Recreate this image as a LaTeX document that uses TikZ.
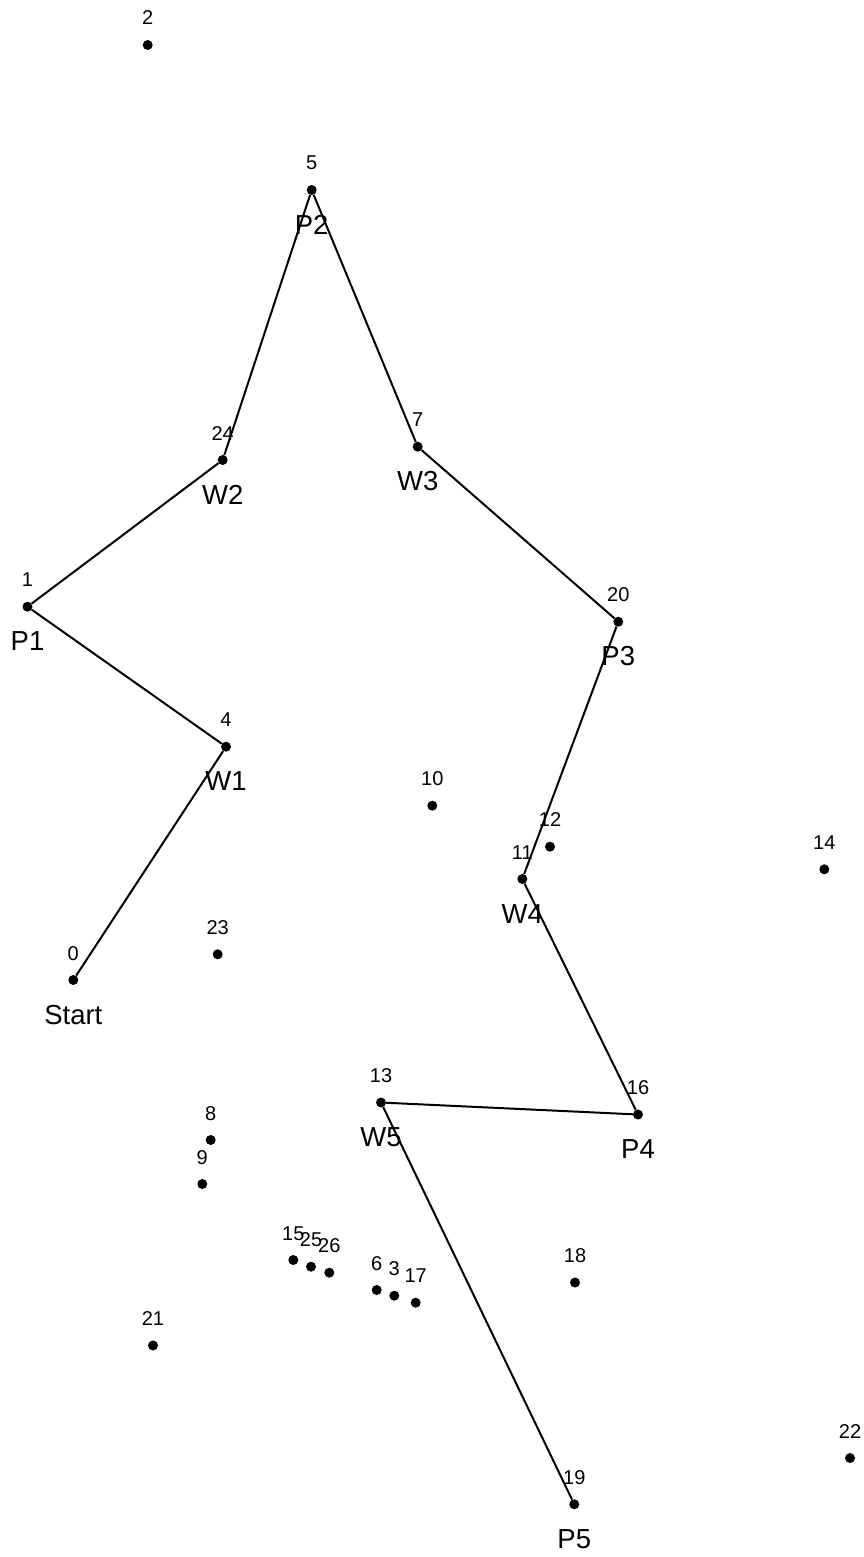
\documentclass[tikz,border=0pt]{standalone}
\usepackage{fontspec}
\setmainfont{Liberation Sans}
\begin{document}
\begin{tikzpicture}[x=1pt,y=-1pt,
  pt/.style={circle,fill=black,inner sep=0pt,minimum size=10pt},
  num/.style={anchor=base,inner sep=0pt,font=\fontsize{20}{20}\selectfont},
  lab/.style={anchor=base,inner sep=0pt,font=\fontsize{27.5}{27.5}\selectfont},
  path/.style={line width=2pt}]
\useasboundingbox (0,0) rectangle (864,1557);
\foreach \n/\x/\y in {0/73.3/980, 1/27.5/606.7, 2/147.7/45, 3/394.3/1295.7, 4/226/746.7,
  5/311.7/190, 6/376.7/1290, 7/417.7/446.7, 8/210.7/1140, 9/202.3/1184,
  10/432.3/805.7, 11/522.3/879, 12/550/846.7, 13/381/1102.5, 14/824.3/869.3,
  15/293.3/1260, 16/638/1114.5, 17/415.7/1302.7, 18/575/1282.5, 19/574.3/1504.3,
  20/618.3/621.7, 21/153/1345.5, 22/850/1458, 23/217.7/954.3, 24/222.7/460,
  25/311/1266.7, 26/329.3/1272.7}{
  \node[pt] (p\n) at (\x,\y) {};
  \node[num] (n\n) at (\x,\y-20) {\n};
}
\draw[path] (p0) -- (p4) -- (p1) -- (p24) -- (p5) -- (p7) -- (p20) -- (p11) -- (p16) -- (p13) -- (p19);
\foreach \n/\t in {0/Start, 4/W1, 1/P1, 24/W2, 5/P2, 7/W3, 20/P3, 11/W4, 16/P4, 13/W5, 19/P5}{
  \node[lab] (l\n) at ([yshift=-44pt]p\n.center) {\t};
}
\end{tikzpicture}
\end{document}
